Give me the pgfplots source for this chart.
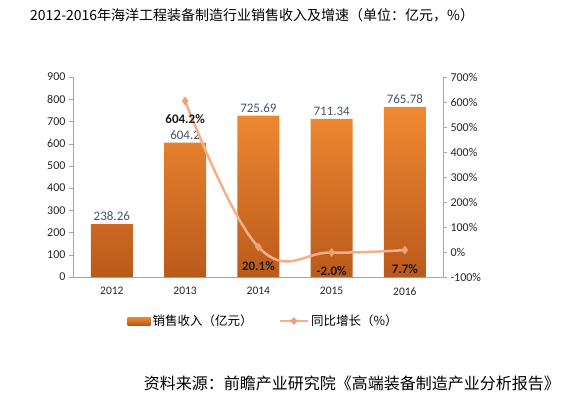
\documentclass[border=0pt]{standalone}
\usepackage{fontspec}
\setmainfont{Carlito}
\newfontfamily\cjk{Noto Sans CJK SC}
\usepackage{pgfplots}
\pgfplotsset{compat=1.18}
\definecolor{barTop}{HTML}{F08A32}
\definecolor{barBot}{HTML}{BA591B}
\definecolor{lineC}{HTML}{F5B088}
\definecolor{markC}{HTML}{EFA077}
\definecolor{axC}{HTML}{A6A6A6}
\definecolor{lblC}{HTML}{44546A}
\begin{document}
\begin{tikzpicture}
\path[use as bounding box] (-73pt,-120pt) rectangle (501pt,277pt);
\begin{axis}[
  at={(0pt,0pt)}, anchor=south west,
  scale only axis, width=370pt, height=200pt,
  xmin=-0.53, xmax=4.52, ymin=0, ymax=900,
  ytick={0,100,...,900},
  xtick={0,1,2,3,4},
  xticklabels={2012,2013,2014,2015,2016},
  axis y line*=left, axis x line*=bottom,
  axis line style={draw=axC, -},
  xtick style={draw=none},
  ytick style={draw=axC},
  tick align=outside, major tick length=4pt,
  /pgf/number format/assume math mode=true,
  yticklabel style={font=\fontsize{12}{13}\selectfont, text=black!85},
  xticklabel style={font=\fontsize{11.5}{13}\selectfont, text=black!85, yshift=-3pt},
  ybar, bar width=42pt,
  nodes near coords,
  nodes near coords style={font=\fontsize{13}{14}\selectfont, text=lblC, /pgf/number format/fixed, /pgf/number format/precision=2},
  legend style={at={(0.515,-0.22)}, anchor=center, draw=none, legend columns=2,
    font=\cjk\fontsize{12.5}{13}\selectfont, /tikz/every even column/.append style={column sep=24pt}},
  legend image code/.code={\fill[barTop!85!barBot] (0pt,-4pt) rectangle (23pt,4pt);},
]
\addplot[draw=none, top color=barTop, bottom color=barBot] coordinates {(0,238.26)(1,604.2)(2,725.69)(3,711.34)(4,765.78)};
\addlegendentry{销售收入（亿元）}
\addlegendimage{legend image code/.code={\draw[lineC, line width=2.5pt] (0pt,0pt) -- (28pt,0pt); \fill[markC] (14pt,-3.5pt) -- (17.5pt,0pt) -- (14pt,3.5pt) -- (10.5pt,0pt) -- cycle;}}
\addlegendentry{同比增长（\%）}
\end{axis}
\begin{axis}[
  at={(0pt,0pt)}, anchor=south west,
  scale only axis, width=370pt, height=200pt,
  xmin=-0.53, xmax=4.52, ymin=-100, ymax=700,
  ytick={-100,0,...,700},
  yticklabel={\pgfmathprintnumber{\tick}\%},
  axis y line*=right, axis x line=none,
  axis line style={draw=axC, -},
  ytick style={draw=axC},
  tick align=outside, major tick length=4pt,
  /pgf/number format/assume math mode=true,
  ticklabel style={font=\fontsize{12}{13}\selectfont, text=black!85},
]
\addplot[smooth, tension=0.7, color=lineC, line width=2.5pt, mark=diamond*, mark size=4pt, mark options={fill=markC, draw=markC, line width=0.5pt}] coordinates {(1,604.2)(2,20.1)(3,-2.0)(4,7.7)};
\node[font=\bfseries\fontsize{13}{14}\selectfont, text=black!90] at (axis cs:1,532) {604.2\%};
\node[font=\bfseries\fontsize{13}{14}\selectfont, text=black!90] at (axis cs:2,-56) {20.1\%};
\node[font=\bfseries\fontsize{13}{14}\selectfont, text=black!90] at (axis cs:3,-76) {-2.0\%};
\node[font=\bfseries\fontsize{13}{14}\selectfont, text=black!90] at (axis cs:4,-68) {7.7\%};
\end{axis}
\node[anchor=west, inner sep=0pt, font=\cjk\fontsize{14}{15}\selectfont] at (-43pt,262pt) {2012-2016年海洋工程装备制造行业销售收入及增速（单位：亿元，\%）};
\node[anchor=east, inner sep=0pt, font=\cjk\fontsize{16}{17}\selectfont] at (487pt,-106pt) {资料来源：前瞻产业研究院《高端装备制造产业分析报告》};
\end{tikzpicture}
\end{document}
